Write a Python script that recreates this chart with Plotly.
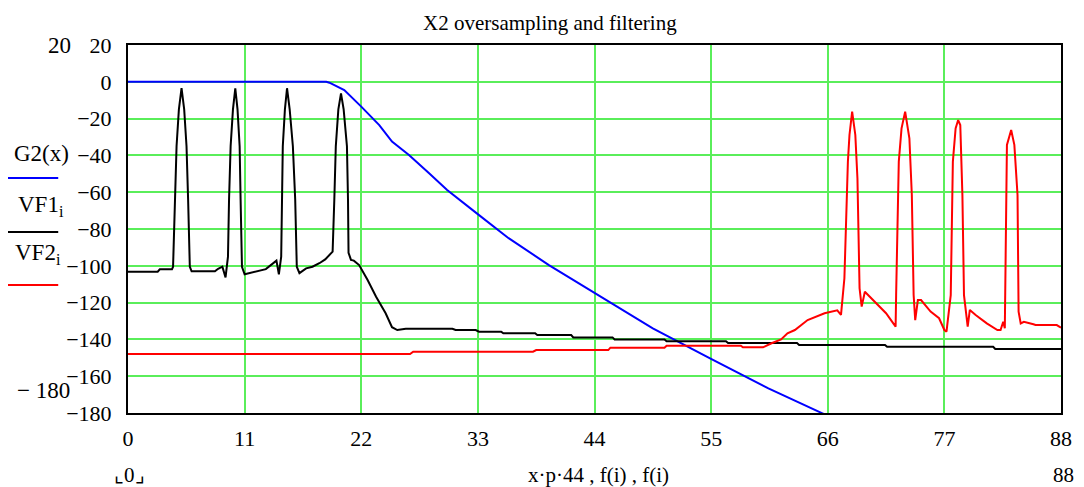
import plotly.graph_objects as go

# ---------------- data ----------------
x_ticks = [0, 11, 22, 33, 44, 55, 66, 77, 88]
y_ticks = [20, 0, -20, -40, -60, -80, -100, -120, -140, -160, -180]

G2_x = [0, 18.7, 19.0, 20.4, 22.0, 23.7, 24.9, 26.5, 28.4, 30.1, 32.9, 35.9,
        39.7, 44.1, 47.2, 49.5, 54.9, 60.4, 65.5, 66.0]
G2_y = [0, 0, -0.5, -4.5, -13.5, -23.5, -32.5, -39.8, -49.7, -58.8, -71.5, -85.0,
        -99.6, -115.0, -125.8, -134.0, -150.3, -166.6, -180.2, -181.5]

VF1_x = [0, 2.8, 3.0, 4.15, 4.25, 4.42, 4.58, 4.8, 5.05, 5.3, 5.52, 5.67, 5.83, 6.0,
         8.2, 8.5, 8.9, 9.2, 9.43, 9.53, 9.68, 9.9, 10.12, 10.33, 10.53, 10.62, 10.75, 11.0,
         12.1, 13.0, 14.0, 14.23, 14.45, 14.5, 14.6, 14.8, 15.0, 15.25, 15.55, 15.77, 15.92, 16.17,
         16.8, 17.4, 18.05, 18.6, 19.0, 19.3, 19.46, 19.6, 19.84, 20.09, 20.34, 20.65, 20.75, 20.8,
         21.03, 21.3, 21.8, 22.6, 23.4, 24.3, 24.9, 25.4, 26.2, 30.6, 30.9, 32.8, 33.1,
         35.2, 35.4, 38.4, 38.6, 41.8, 42.0, 45.7, 45.9, 50.6, 50.8, 56.4, 56.6,
         63.1, 63.3, 71.4, 71.6, 81.6, 81.8, 88]
VF1_y = [-103.2, -103.2, -101.9, -101.9, -100.5, -64, -35, -15, -3.5, -15, -35, -64, -100.5, -103,
         -103, -101.6, -100.5, -106.3, -95, -64, -35, -15, -3.5, -15, -35, -64, -100.5, -104.6,
         -103.2, -101.8, -97.2, -104.6, -95, -64, -35, -15, -3.5, -15, -35, -64, -100.5, -104,
         -101.4, -100.5, -98.6, -96.5, -94.1, -92.3, -64, -35, -15, -6.3, -15, -35, -64, -92.9,
         -96.8, -97.2, -99.6, -107.7, -116.8, -125.8, -133.4, -134.9, -134.2, -134.2, -134.9, -134.9, -135.8,
         -135.8, -136.7, -136.7, -137.6, -137.6, -138.9, -138.9, -140.0, -140.0, -141.0, -141.0, -142.0,
         -142.0, -143.0, -143.0, -144.0, -144.0, -145.2, -145.2]

VF2_x = [0, 26.6, 26.9, 38.2, 38.5, 45.3, 45.5, 50.6, 50.8, 57.8, 58.0, 59.9, 60.7, 61.6,
         62.2, 62.9, 64.1, 65.7, 66.9, 67.25, 67.57, 67.9, 68.05, 68.3, 68.6, 68.8, 69.0, 69.2,
         69.5, 70.4, 71.5, 72.3, 72.4, 72.45, 72.7, 72.96, 73.3, 73.7, 73.93, 74.1, 74.25, 74.5,
         74.8, 75.7, 76.5, 77.0, 77.2, 77.6, 77.8, 78.06, 78.3, 78.5, 78.7, 78.85, 79.2, 79.4,
         79.95, 81.0, 82.0, 82.3, 82.55, 82.7, 82.8, 82.9, 83.3, 83.6, 83.9, 84.0, 84.2, 84.5,
         85.4, 85.6, 87.6, 88]
VF2_y = [-148, -148, -146.7, -146.7, -145.8, -145.8, -144.5, -144.5, -143.4, -143.4, -144.3, -144.3, -142.1, -140,
         -136.7, -134.9, -129.5, -125.8, -124.2, -126.7, -106.8, -43.4, -28.9, -16.2, -28.9, -52.4, -112.2, -122.2,
         -114.1, -119.5, -125.8, -132.2, -133.1, -115.9, -43.4, -25.3, -16.2, -30.7, -61.5, -115.9, -129.5, -118.6,
         -118.6, -124.9, -128.5, -134.9, -135.8, -115.9, -43.4, -25.3, -20.8, -23.5, -61.5, -115.9, -133.1, -124,
         -126.7, -131.3, -134.9, -134.9, -130.4, -134, -61.5, -34.3, -26.2, -34.3, -61.5, -124.9, -131.3, -130.4,
         -131.8, -132.2, -132.2, -133.6]

# ---------------- layout geometry (page pixels) ----------------
OFF = 8                      # default page margin of the html body
PAGE_W, PAGE_H = 1084, 487
PL, PR, PT, PB = 128, 1064, 45, 413          # plot area in page pixels
W, H = PAGE_W - OFF, PAGE_H - OFF
L, T = PL - OFF, PT - OFF
R, B = W + OFF - PR, H + OFF - PB
PW, PH = PR - PL, PB - PT
FONT = "Liberation Serif"
GRID = "rgb(90,238,90)"


def px(x):
    return (x - PL) / PW


def py(y):
    return (PB - y) / PH


fig = go.Figure()
fig.add_trace(go.Scatter(x=G2_x, y=G2_y, mode="lines", line=dict(color="#0000ff", width=2), name="G2(x)"))
fig.add_trace(go.Scatter(x=VF1_x, y=VF1_y, mode="lines", line=dict(color="#000000", width=2), name="VF1"))
fig.add_trace(go.Scatter(x=VF2_x, y=VF2_y, mode="lines", line=dict(color="#ff0000", width=2), name="VF2"))

ann = []


def text(t, x, y, size=22, xanchor="center"):
    ann.append(dict(text=t, x=px(x), y=py(y), xref="paper", yref="paper", showarrow=False,
                    xanchor=xanchor, yanchor="middle", font=dict(family=FONT, size=size, color="black")))


text("X2 oversampling and filtering", 551, 23, size=21)
text("20", 59, 45, size=23)
text("G2(x)", 41, 153, size=23)
text("VF1<sub>i</sub>", 41, 206, size=23)
text("VF2<sub>i</sub>", 38, 254, size=23)
text("\u2212 180", 43, 390, size=23)
text("\u231e0\u231f", 130, 475, size=21)
text("x\u00b7p\u00b744 , f(i) , f(i)", 600, 475, size=21)
text("88", 1067, 475, size=21)

shapes = []
for yy, col in [(178, "#0000ff"), (232, "#000000"), (285, "#ff0000")]:
    shapes.append(dict(type="line", xref="paper", yref="paper", x0=px(7), x1=px(58), y0=py(yy), y1=py(yy),
                       line=dict(color=col, width=2)))

fig.update_layout(
    width=W, height=H,
    margin=dict(l=L, r=R, t=T, b=B),
    paper_bgcolor="white", plot_bgcolor="white",
    showlegend=False,
    annotations=ann, shapes=shapes,
    font=dict(family=FONT, size=22, color="black"),
)
fig.update_xaxes(range=[0, 88], tickvals=x_ticks, ticktext=[str(v) for v in x_ticks],
                 showgrid=True, gridcolor=GRID, gridwidth=1.5, zeroline=False,
                 showline=True, linecolor="black", linewidth=2, mirror=True, ticks="",
                 ticklabelstandoff=5, tickfont=dict(family=FONT, size=22, color="black"))
fig.update_yaxes(range=[-180, 20], tickvals=y_ticks,
                 ticktext=[str(v).replace("-", "\u2212") for v in y_ticks],
                 showgrid=True, gridcolor=GRID, gridwidth=1.5, zeroline=False,
                 showline=True, linecolor="black", linewidth=2, mirror=True, ticks="",
                 ticklabelstandoff=10, tickfont=dict(family=FONT, size=22, color="black"))

fig.write_html("out.html")
